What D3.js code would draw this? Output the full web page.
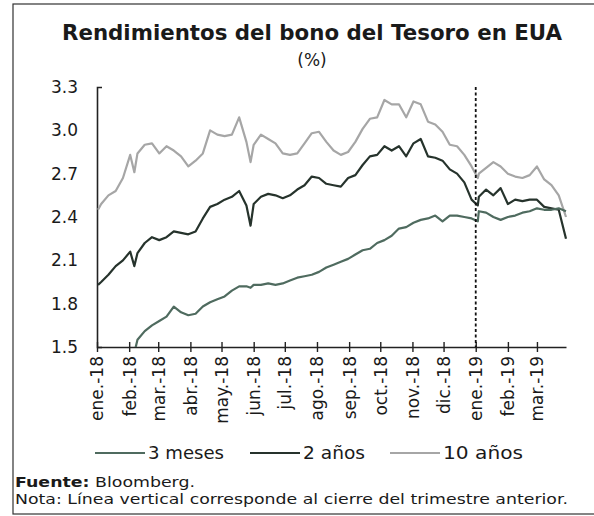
<!DOCTYPE html>
<html>
<head>
<meta charset="utf-8">
<script src="https://cdn.jsdelivr.net/npm/d3@7"></script>
<style>
  body { margin: 0; background: #fff; }
  svg { font-family: "DejaVu Sans", sans-serif; }
</style>
</head>
<body>
<div id="chart"></div>
<script>
var dates = [
  "2018-01-02", "2018-01-05", "2018-01-12", "2018-01-19", "2018-01-26", "2018-02-02", "2018-02-06",
  "2018-02-09", "2018-02-16", "2018-02-23", "2018-03-02", "2018-03-09", "2018-03-16", "2018-03-23",
  "2018-03-30", "2018-04-06", "2018-04-13", "2018-04-20", "2018-04-27", "2018-05-04", "2018-05-11",
  "2018-05-18", "2018-05-25", "2018-05-29", "2018-06-01", "2018-06-08", "2018-06-15", "2018-06-22",
  "2018-06-29", "2018-07-06", "2018-07-13", "2018-07-20", "2018-07-27", "2018-08-03", "2018-08-10",
  "2018-08-17", "2018-08-24", "2018-08-31", "2018-09-07", "2018-09-14", "2018-09-21", "2018-09-28",
  "2018-10-05", "2018-10-12", "2018-10-19", "2018-10-26", "2018-11-02", "2018-11-09", "2018-11-16",
  "2018-11-23", "2018-11-30", "2018-12-07", "2018-12-14", "2018-12-21", "2018-12-28", "2019-01-03",
  "2019-01-04", "2019-01-11", "2019-01-18", "2019-01-25", "2019-02-01", "2019-02-08", "2019-02-15",
  "2019-02-22", "2019-03-01", "2019-03-08", "2019-03-15", "2019-03-22", "2019-03-29"
];

var threeMonth = [
  1.39, 1.40, 1.42, 1.43, 1.44, 1.47, 1.46,
  1.55, 1.61, 1.65, 1.68, 1.71, 1.78, 1.74,
  1.72, 1.73, 1.78, 1.81, 1.83, 1.85, 1.89,
  1.92, 1.92, 1.91, 1.93, 1.93, 1.94, 1.93,
  1.94, 1.96, 1.98, 1.99, 2.00, 2.02, 2.05,
  2.07, 2.09, 2.11, 2.14, 2.17, 2.18, 2.22,
  2.24, 2.27, 2.32, 2.33, 2.36, 2.38, 2.39,
  2.41, 2.37, 2.41, 2.41, 2.40, 2.39, 2.37,
  2.44, 2.43, 2.40, 2.38, 2.40, 2.41, 2.43,
  2.44, 2.46, 2.45, 2.45, 2.46, 2.44
];

var twoYear = [
  1.93, 1.95, 2.00, 2.06, 2.10, 2.16, 2.06,
  2.15, 2.22, 2.26, 2.24, 2.26, 2.30, 2.29,
  2.28, 2.30, 2.39, 2.47, 2.49, 2.52, 2.54,
  2.58, 2.48, 2.34, 2.49, 2.54, 2.56, 2.55,
  2.53, 2.55, 2.59, 2.62, 2.68, 2.67, 2.63,
  2.62, 2.61, 2.67, 2.69, 2.76, 2.82, 2.83,
  2.89, 2.86, 2.89, 2.82, 2.91, 2.94, 2.82,
  2.81, 2.79, 2.73, 2.70, 2.64, 2.52, 2.48,
  2.54, 2.59, 2.55, 2.60, 2.49, 2.52, 2.51,
  2.52, 2.52, 2.47, 2.46, 2.45, 2.25
];

var tenYear = [
  2.45, 2.49, 2.55, 2.58, 2.67, 2.83, 2.71,
  2.84, 2.90, 2.91, 2.84, 2.89, 2.86, 2.82,
  2.75, 2.79, 2.84, 3.00, 2.97, 2.96, 2.97,
  3.09, 2.92, 2.78, 2.90, 2.97, 2.94, 2.91,
  2.84, 2.83, 2.84, 2.91, 2.98, 2.99, 2.92,
  2.86, 2.83, 2.85, 2.92, 3.01, 3.08, 3.09,
  3.21, 3.18, 3.18, 3.09, 3.20, 3.18, 3.06,
  3.04, 2.99, 2.90, 2.89, 2.83, 2.75, 2.67,
  2.70, 2.74, 2.78, 2.75, 2.70, 2.68, 2.67,
  2.69, 2.75, 2.66, 2.62, 2.55, 2.40
];

var seriesNames = ["3 meses", "2 años", "10 años"];
var seriesColors = ["#4f6b5f", "#26332c", "#a6a6a6"];
var yTicks = [1.5, 1.8, 2.1, 2.4, 2.7, 3.0, 3.3];
var monthLabels = ["ene.-18", "feb.-18", "mar.-18", "abr.-18", "may.-18", "jun.-18", "jul.-18",
  "ago.-18", "sep.-18", "oct.-18", "nov.-18", "dic.-18", "ene.-19", "feb.-19", "mar.-19"];
var quarterClose = "2019-01-01";

var width = 594, height = 516;
var font = "DejaVu Sans";
var parse = d3.timeParse("%Y-%m-%d");
var parsedDates = dates.map(parse);
var allSeries = [threeMonth, twoYear, tenYear];

var svg = d3.select("#chart").append("svg")
    .attr("width", width)
    .attr("height", height);

svg.append("rect")
    .attr("x", 13).attr("y", 4)
    .attr("width", 600).attr("height", 510)
    .attr("fill", "#fff")
    .attr("stroke", "#333")
    .attr("stroke-width", 1.2);

svg.append("text")
    .attr("x", 312).attr("y", 40)
    .attr("text-anchor", "middle")
    .attr("font-size", "22px")
    .attr("font-weight", "bold")
    .attr("fill", "#1a1a1a")
    .attr("textLength", 500)
    .attr("lengthAdjust", "spacingAndGlyphs")
    .text("Rendimientos del bono del Tesoro en EUA");

svg.append("text")
    .attr("x", 312).attr("y", 66)
    .attr("text-anchor", "middle")
    .attr("font-size", "17px")
    .attr("fill", "#1a1a1a")
    .text("(%)");

var x = d3.scaleTime()
    .domain([parse("2018-01-01"), parse("2019-03-29")])
    .range([97, 566]);
var y = d3.scaleLinear()
    .domain([1.5, 3.3])
    .range([347, 87]);

svg.append("defs").append("clipPath")
    .attr("id", "plot")
    .append("rect")
    .attr("x", 97).attr("y", 80)
    .attr("width", 480).attr("height", 267);

// y axis
var yAxis = svg.append("g")
    .attr("transform", "translate(97,0)")
    .call(d3.axisLeft(y).tickValues(yTicks).tickSize(0).tickSizeOuter(-5).tickPadding(19)
        .tickFormat(d3.format(".1f")));
yAxis.attr("font-family", font);
yAxis.select(".domain").attr("stroke", "#222").attr("stroke-width", 1.6);
yAxis.selectAll("text")
    .attr("font-size", "17px")
    .attr("fill", "#1a1a1a");

// x axis
var monthTicks = d3.timeMonth.range(parse("2018-01-01"), parse("2019-03-02"));
var xAxis = svg.append("g")
    .attr("transform", "translate(0,347)")
    .call(d3.axisBottom(x).tickValues(monthTicks).tickSize(0).tickSizeOuter(0)
        .tickFormat(function(d, i) { return monthLabels[i]; }));
xAxis.attr("font-family", font);
xAxis.select(".domain").attr("stroke", "#222").attr("stroke-width", 1.6);
xAxis.selectAll(".tick line")
    .attr("y1", -5).attr("y2", 5)
    .attr("stroke", "#222").attr("stroke-width", 1.4);
xAxis.selectAll("text")
    .attr("transform", "rotate(-90)")
    .attr("text-anchor", "end")
    .attr("x", -9).attr("y", 0).attr("dy", "0.35em")
    .attr("font-size", "17px")
    .attr("fill", "#1a1a1a");

var line = d3.line()
    .x(function(d) { return x(d[0]); })
    .y(function(d) { return y(d[1]); });

var plot = svg.append("g").attr("clip-path", "url(#plot)");

[2, 1, 0].forEach(function(s) {
    var pts = parsedDates.map(function(d, i) { return [d, allSeries[s][i]]; });
    plot.append("path")
        .datum(pts)
        .attr("fill", "none")
        .attr("stroke", seriesColors[s])
        .attr("stroke-width", 2.2)
        .attr("stroke-linejoin", "round")
        .attr("d", line);
});

svg.append("line")
    .attr("x1", x(parse(quarterClose))).attr("x2", x(parse(quarterClose)))
    .attr("y1", 87).attr("y2", 347)
    .attr("stroke", "#111")
    .attr("stroke-width", 1.8)
    .attr("stroke-dasharray", "3,2.5");

// legend
var legendX = [95, 250, 390];
var legendW = [76, 62, 80];
var legend = svg.selectAll(".legend")
    .data(seriesNames)
    .enter().append("g")
    .attr("class", "legend")
    .attr("transform", function(d, i) { return "translate(" + legendX[i] + ",453)"; });
legend.append("line")
    .attr("x1", 0).attr("x2", 50)
    .attr("stroke", function(d, i) { return seriesColors[i]; })
    .attr("stroke-width", 2.2);
legend.append("text")
    .attr("x", 53).attr("dy", "0.35em")
    .attr("font-size", "17px")
    .attr("fill", "#1a1a1a")
    .attr("textLength", function(d, i) { return legendW[i]; })
    .attr("lengthAdjust", "spacingAndGlyphs")
    .text(function(d) { return d; });

var src = svg.append("text")
    .attr("x", 15).attr("y", 487)
    .attr("font-size", "14px")
    .attr("fill", "#1a1a1a")
    .attr("textLength", 180)
    .attr("lengthAdjust", "spacingAndGlyphs");
src.append("tspan").attr("font-weight", "bold").text("Fuente:");
src.append("tspan").text(" Bloomberg.");

svg.append("text")
    .attr("x", 15).attr("y", 504)
    .attr("font-size", "14px")
    .attr("fill", "#1a1a1a")
    .attr("textLength", 553)
    .attr("lengthAdjust", "spacingAndGlyphs")
    .text("Nota: Línea vertical corresponde al cierre del trimestre anterior.");
</script>
</body>
</html>
